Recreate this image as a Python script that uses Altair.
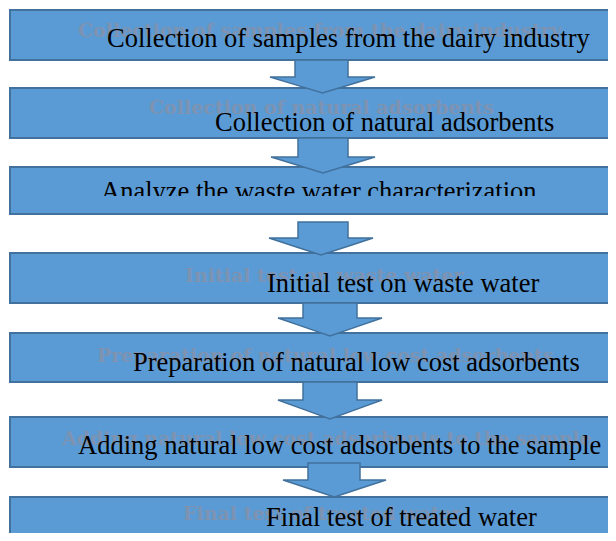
import altair as alt
import pandas as pd

# Flowchart steps (black labels)
steps = [
    "Collection of samples from the dairy industry",
    "Collection of natural adsorbents",
    "Analyze the waste water characterization",
    "Initial test on waste water",
    "Preparation of natural low cost adsorbents",
    "Adding natural low cost adsorbents to the sample",
    "Final test of treated water",
]
# faded duplicate labels seen behind the main ones ("" = none)
ghost_labels = [
    "Collection of samples from the dairy industry",
    "Collection of natural adsorbents",
    "",
    "Initial test on waste water",
    "Preparation of natural low cost adsorbents",
    "Adding natural low cost adsorbents to the sample",
    "Final test of treated water",
]

# layout (page pixel coordinates)
box_top = [10, 88, 167, 253, 333, 417, 497]
box_bottom = [60, 138, 214, 303, 382, 467, 560]
box_left = 10
box_right = 622
text_x = [107, 215, 101, 267, 133, 78, 266]
text_base = [47, 131, 200, 292, 371, 454, 526]
ghost_x = [78, 149, 0, 185, 97, 62, 183]
ghost_base = [37, 114, 0, 282, 362, 445, 520]

# arrows: shaft left/right, head left/right, shaft top, head top, tip
arr_sx0 = [295, 298, 298, 303, 303, 308]
arr_sx1 = [348, 348, 348, 357, 357, 360]
arr_hx0 = [270, 271, 269, 278, 278, 283]
arr_hx1 = [375, 375, 373, 382, 382, 386]
arr_st = [60, 138, 222, 303, 382, 463]
arr_ht = [77, 157, 238, 318, 400, 480]
arr_tip = [93, 173, 255, 336, 419, 497]

FILL = "#5b9bd5"
EDGE = "#41719c"
SERIF = "Liberation Serif, Times New Roman, Times, serif"

boxes = pd.DataFrame({
    "step": steps,
    "x": [box_left] * len(steps),
    "x2": [box_right] * len(steps),
    "y": box_top,
    "y2": box_bottom,
})

rows = []
for i in range(len(arr_sx0)):
    sx0, sx1, hx0, hx1 = arr_sx0[i], arr_sx1[i], arr_hx0[i], arr_hx1[i]
    st, ht, tp = arr_st[i], arr_ht[i], arr_tip[i]
    xc = (hx0 + hx1) / 2
    yl = ht + (sx0 - hx0) / (xc - hx0) * (tp - ht)
    yr = ht + (hx1 - sx1) / (hx1 - xc) * (tp - ht)
    pts = [
        (hx0, ht, ht),
        (sx0, ht, yl),
        (sx0, st, yl),
        (xc, st, tp),
        (sx1, st, yr),
        (sx1, ht, yr),
        (hx1, ht, ht),
    ]
    for k, (px, py, py2) in enumerate(pts):
        rows.append({"arrow": i, "k": k, "x": px, "y": py, "y2": py2})
arrows = pd.DataFrame(rows)

labels = pd.DataFrame({"label": steps, "x": text_x, "y": text_base})
ghosts = pd.DataFrame({"label": ghost_labels, "x": ghost_x, "y": ghost_base})
ghosts = ghosts[ghosts["label"] != ""]

# cover for the clipped lower part of the third label
cover = pd.DataFrame({"x": [60], "x2": [600], "y": [196], "y2": [213]})

xs = alt.Scale(domain=[8, 608], zero=False, nice=False)
ys = alt.Scale(domain=[8, 533], zero=False, nice=False, reverse=True)

box_layer = alt.Chart(boxes).mark_rect(
    fill=FILL, stroke=EDGE, strokeWidth=2, clip=True
).encode(
    x=alt.X("x:Q", scale=xs, axis=None),
    x2="x2:Q",
    y=alt.Y("y:Q", scale=ys, axis=None),
    y2="y2:Q",
)

arrow_layer = alt.Chart(arrows).mark_area(
    fill=FILL, stroke=EDGE, strokeWidth=1.5, opacity=1, fillOpacity=1, clip=True
).encode(
    x=alt.X("x:Q", scale=xs, axis=None),
    y=alt.Y("y:Q", scale=ys, axis=None, stack=None),
    y2="y2:Q",
    detail="arrow:N",
)

ghost_layer = alt.Chart(ghosts).mark_text(
    align="left", baseline="alphabetic", font="DejaVu Serif", fontWeight="bold",
    fontSize=19, color="#8492ab", opacity=0.85, clip=True
).encode(
    x=alt.X("x:Q", scale=xs, axis=None),
    y=alt.Y("y:Q", scale=ys, axis=None),
    text="label:N",
)

text_layer = alt.Chart(labels).mark_text(
    align="left", baseline="alphabetic", font=SERIF,
    fontSize=26.5, color="#000000", clip=True
).encode(
    x=alt.X("x:Q", scale=xs, axis=None),
    y=alt.Y("y:Q", scale=ys, axis=None),
    text="label:N",
)

cover_layer = alt.Chart(cover).mark_rect(fill=FILL, strokeWidth=0).encode(
    x=alt.X("x:Q", scale=xs, axis=None),
    x2="x2:Q",
    y=alt.Y("y:Q", scale=ys, axis=None),
    y2="y2:Q",
)

chart = alt.layer(
    box_layer, arrow_layer, ghost_layer, text_layer, cover_layer
).properties(
    width=600, height=525, padding=0,
    autosize=alt.AutoSizeParams(type="none"),
).configure_view(stroke=None)

chart.save("out.html", embed_options={"renderer": "svg", "actions": False})
